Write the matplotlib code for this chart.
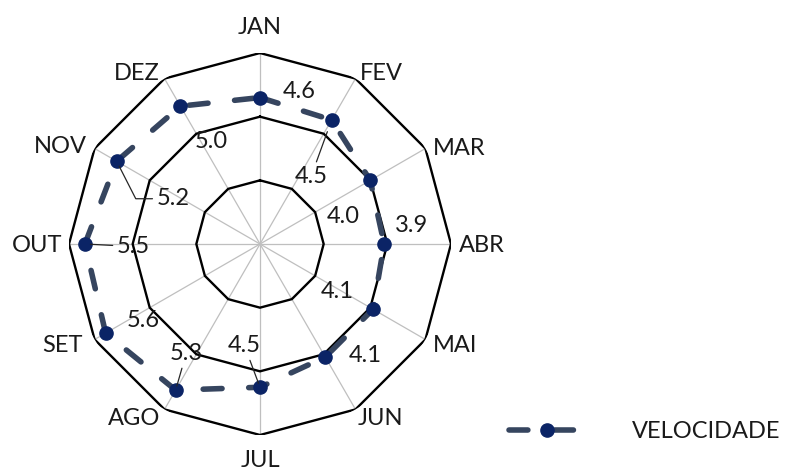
import numpy as np
import matplotlib
matplotlib.use("Agg")
import matplotlib.pyplot as plt

# ---------------- data ----------------
months = ["JAN", "FEV", "MAR", "ABR", "MAI", "JUN",
          "JUL", "AGO", "SET", "OUT", "NOV", "DEZ"]
velocidade = [4.6, 4.5, 4.0, 3.9, 4.1, 4.1, 4.5, 5.3, 5.6, 5.5, 5.2, 5.0]
series_name = "VELOCIDADE"
ring_levels = [2, 4, 6]

# ---------------- layout / style ----------------
FONT = "Lato"
FS = 17
TEXT_COLOR = "#1A1A1A"
LINE_COLOR = "#36455F"
MARKER_COLOR = "#0B2466"

# category label offsets (pixels from outer vertex) : dx, dy(baseline), ha
cat_offsets = [(0, 19, "center"), (4.5, -1.5, "left"), (7.6, -6.5, "left"),
               (8, -8, "left"), (7.6, -12.5, "left"), (2.5, -15.6, "left"),
               (0, -32, "center"), (-4.5, -15.6, "right"), (-12, -12.5, "right"),
               (-7, -8, "right"), (-7.6, -4.5, "right"), (-4.5, -1.5, "right")]
# data label offsets (pixels from point, text centre x, baseline y)
val_offsets = [(39, 0), (-20.5, -63), (-27.5, -43), (27.5, 12), (-35.5, 11),
               (39.5, -5), (-15.5, 35), (10.5, 30), (37.5, 6), (48.5, -9),
               (56.5, -44), (31, -42)]
# leader lines: None / connection style, and end shrink (points)
leaders = [None, "arc3", None, None, None, None, "arc3", "arc3", None,
           "arc3", "angle,angleA=0,angleB=117,rad=0", None]
leader_shrink = [0, 9, 0, 0, 0, 0, 3, 3, 0, 4, 4, 0]

fig = plt.figure(figsize=(7.85, 4.71), dpi=100)
cx, cy, R = 260, 471 - 244, 191
ax = fig.add_axes([(cx - R) / 785, (cy - R) / 471, 2 * R / 785, 2 * R / 471],
                  projection="polar")
ax.set_theta_zero_location("N")
ax.set_theta_direction(-1)

n = len(months)
angles = np.arange(n) * 2 * np.pi / n
ax.set_ylim(0, ring_levels[-1])
ax.set_xticks(angles)
ax.set_xticklabels([])
ax.set_yticks([])
ax.tick_params(length=0)
ax.xaxis.grid(True, color="#BFBFBF", lw=0.9)
ax.spines["polar"].set_visible(False)
ax.set_facecolor("none")

closed = np.append(angles, angles[0])
for lv in ring_levels:
    ax.plot(closed, [lv] * (n + 1), color="black", lw=1.7, zorder=2,
            solid_joinstyle="miter")

vals_closed = velocidade + [velocidade[0]]
ax.plot(closed, vals_closed, color=LINE_COLOR, lw=4, ls=(0, (3.4, 4.8)),
        dash_capstyle="round", zorder=4, label=series_name)
ax.plot(angles, velocidade, ls="none", marker="o", ms=9.5,
        color=MARKER_COLOR, mec=MARKER_COLOR, zorder=5)

for i, m in enumerate(months):
    dx, dy, ha = cat_offsets[i]
    ax.annotate(m, xy=(angles[i], ring_levels[-1]), xytext=(dx, dy),
                textcoords="offset pixels", ha=ha, va="baseline",
                fontsize=FS, family=FONT, color=TEXT_COLOR,
                annotation_clip=False)

for i, v in enumerate(velocidade):
    dx, dy = val_offsets[i]
    kw = {}
    if leaders[i] is not None:
        kw["arrowprops"] = dict(arrowstyle="-", color="#262626", lw=0.9,
                                connectionstyle=leaders[i],
                                shrinkA=1, shrinkB=leader_shrink[i])
    ax.annotate(f"{v:.1f}", xy=(angles[i], v), xytext=(dx, dy),
                textcoords="offset pixels", ha="center", va="baseline",
                fontsize=FS, family=FONT, color=TEXT_COLOR, zorder=6,
                annotation_clip=False, **kw)

h = [plt.Line2D([], [], color=LINE_COLOR, lw=4, ls=(0, (3.4, 4.8)),
                dash_capstyle="round", marker="o", ms=9.5,
                mfc=MARKER_COLOR, mec=MARKER_COLOR)]
leg = fig.legend(h, [series_name], loc="center left",
                 bbox_to_anchor=(509 / 785, 39 / 471), frameon=False,
                 borderaxespad=0, borderpad=0, handlelength=3.2,
                 handletextpad=2.0, numpoints=1,
                 prop={"family": FONT, "size": FS})
for t in leg.get_texts():
    t.set_color(TEXT_COLOR)

fig.savefig("out.png", dpi=100)
